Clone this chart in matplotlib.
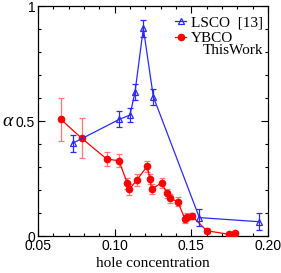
import matplotlib
matplotlib.use("Agg")
import matplotlib.pyplot as plt
from matplotlib.ticker import MultipleLocator, FuncFormatter
from matplotlib.lines import Line2D

# LSCO [13]
lsco_x = [0.0726, 0.103, 0.110, 0.1133, 0.1187, 0.1252, 0.1552, 0.1944]
lsco_y = [0.403, 0.507, 0.526, 0.627, 0.903, 0.606, 0.080, 0.062]
lsco_err = [0.037, 0.035, 0.03, 0.035, 0.036, 0.035, 0.036, 0.037]

# YBCO (this work)
ybco_x = [0.065, 0.0785, 0.0948, 0.1028, 0.1083, 0.1096, 0.1144, 0.1213, 0.1230,
          0.1241, 0.1307, 0.1339, 0.1361, 0.1411, 0.1459, 0.147, 0.1502, 0.160,
          0.1748, 0.1785]
ybco_y = [0.507, 0.425, 0.335, 0.327, 0.229, 0.203, 0.243, 0.304, 0.246,
          0.203, 0.232, 0.186, 0.164, 0.149, 0.074, 0.084, 0.088, 0.023,
          0.007, 0.012]
ybco_err = [0.092, 0.086, 0.029, 0.029, 0.025, 0.025, 0.025, 0.024, 0.022,
            0.022, 0.022, 0.02, 0.02, 0.02, 0.018, 0.015, 0.012, 0.01,
            0.006, 0.008]

red = "#ff0000"
blue = "#2a2aff"

fig = plt.figure(figsize=(2.81, 2.73), dpi=100)
ax = fig.add_axes([0.135, 0.1355, 0.819, 0.8425])

ax.errorbar(ybco_x, ybco_y, yerr=ybco_err, color=red, ecolor="#ff7777",
            marker="o", ms=4.5, lw=0.9, elinewidth=0.9, capsize=2.5, capthick=0.9,
            zorder=3)
ax.errorbar(lsco_x, lsco_y, yerr=lsco_err, color=blue, marker="^", ms=5,
            mfc="none", mew=0.9, lw=0.9, elinewidth=0.9, capsize=2.5, capthick=0.9,
            zorder=4)

ax.set_xlim(0.05, 0.20)
ax.set_ylim(0, 1)
ax.xaxis.set_major_locator(MultipleLocator(0.05))
ax.xaxis.set_minor_locator(MultipleLocator(0.01))
ax.yaxis.set_major_locator(MultipleLocator(0.5))
ax.yaxis.set_minor_locator(MultipleLocator(0.1))
ax.xaxis.set_major_formatter(FuncFormatter(lambda v, p: "%.2f" % v))
ax.yaxis.set_major_formatter(FuncFormatter(
    lambda v, p: "0" if v == 0 else ("1" if v == 1 else "%.1f" % v)))
ax.tick_params(which="both", direction="in", top=True, right=True, width=0.8,
               labelsize=10, pad=2)
ax.tick_params(which="major", length=5)
ax.tick_params(which="minor", length=2.5)
for lbl in ax.get_xticklabels() + ax.get_yticklabels():
    lbl.set_fontfamily("Liberation Sans")
for s in ax.spines.values():
    s.set_linewidth(0.9)

ax.set_xlabel("hole concentration", fontfamily="Liberation Serif", fontsize=11, labelpad=3)
ax.set_ylabel("α", fontfamily="Liberation Serif", fontstyle="italic", fontsize=14,
              rotation=0, va="center", ha="center")
ax.yaxis.set_label_coords(-0.13, 0.5)

handles = [
    Line2D([], [], color=blue, marker="^", ms=5, mfc="none", mew=0.9, lw=0.9),
    Line2D([], [], color=red, marker="o", ms=4.5, lw=0.9),
]
ax.legend(handles, ["LSCO  [13]", "YBCO"], loc="upper left",
          bbox_to_anchor=(0.57, 0.985), frameon=False,
          prop={"family": "Liberation Serif", "size": 11},
          handlelength=0.7, handletextpad=0.3, borderaxespad=0.0,
          labelspacing=0.15)
ax.text(0.98, 0.835, "ThisWork", transform=ax.transAxes, ha="right", va="top",
        fontfamily="Liberation Serif", fontsize=11)

plt.savefig("out.png", dpi=100)
